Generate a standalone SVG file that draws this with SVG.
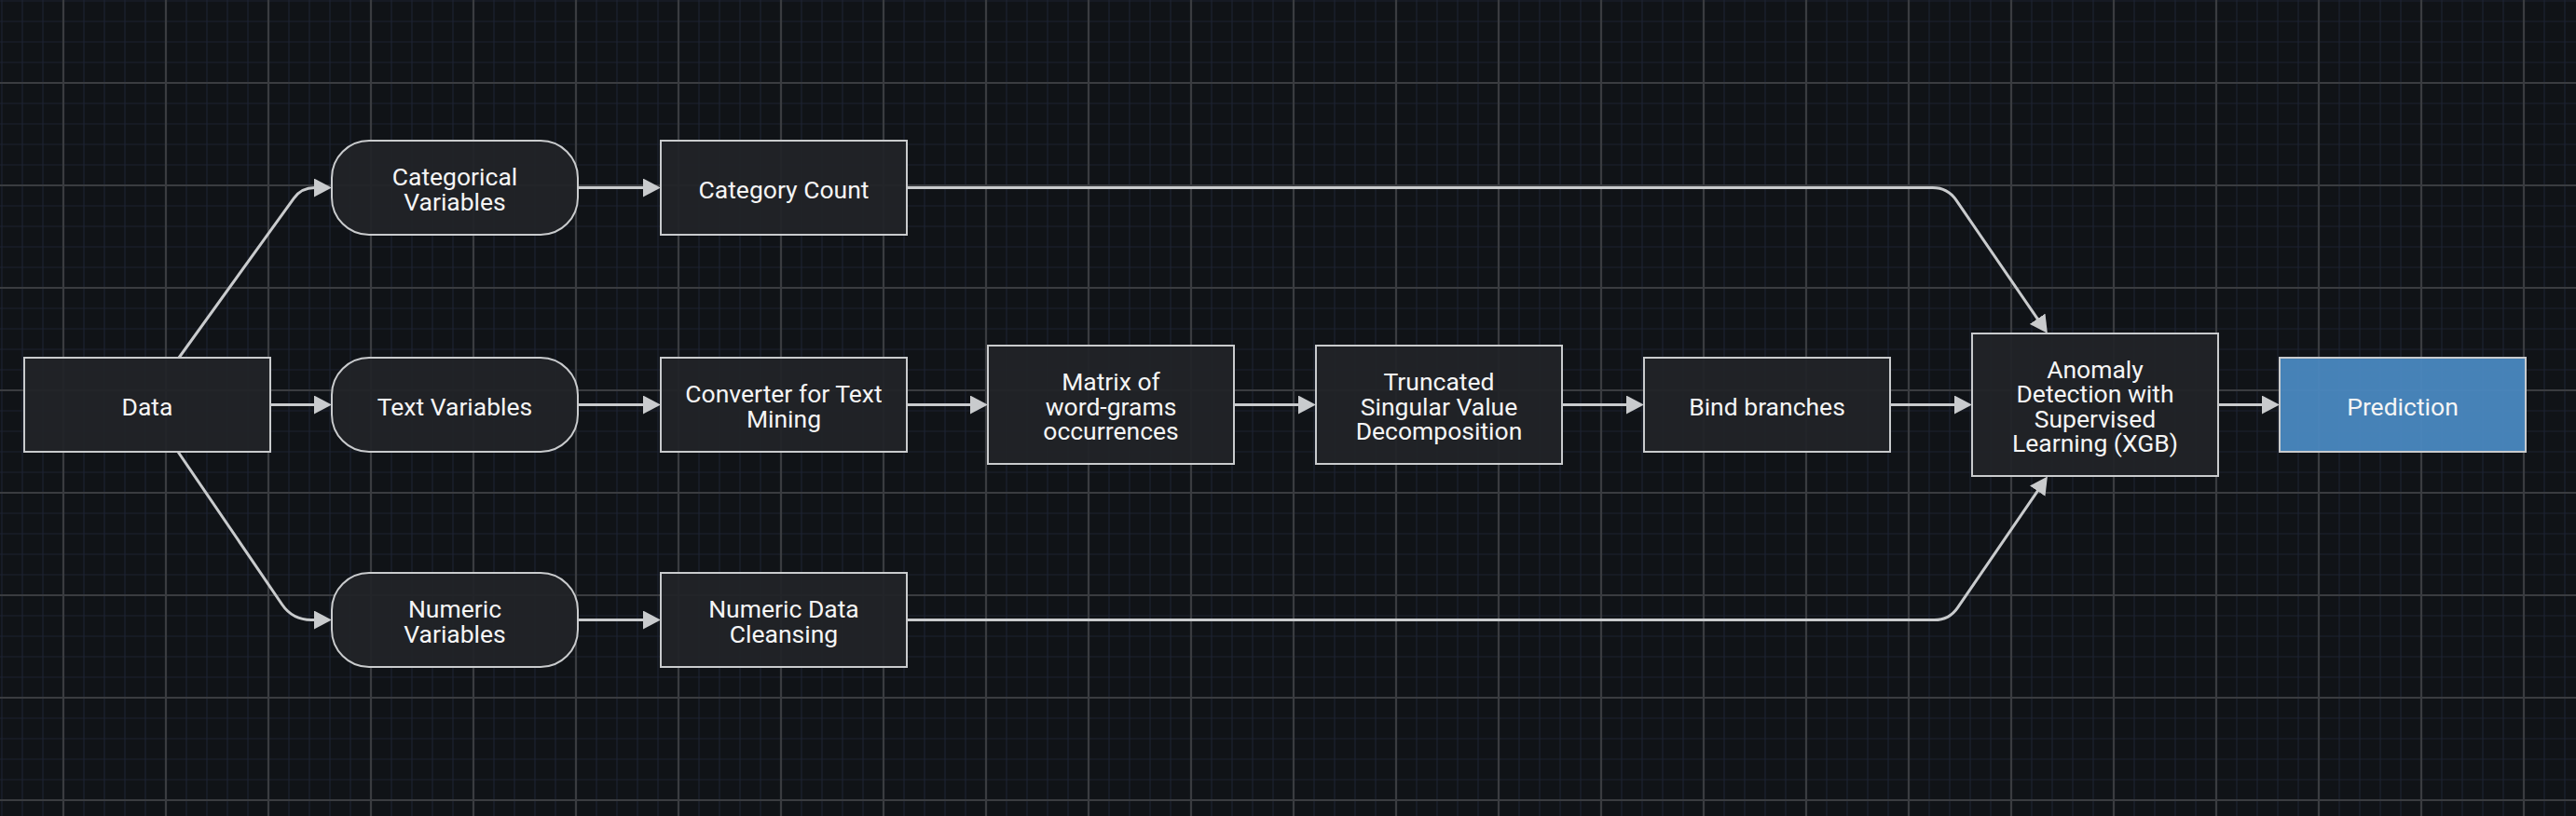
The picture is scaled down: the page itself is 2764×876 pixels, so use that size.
<svg xmlns="http://www.w3.org/2000/svg" width="2764" height="876" viewBox="0 0 2764 876">
  <defs>
    <pattern id="grid" patternUnits="userSpaceOnUse" x="13" y="34" width="110" height="110">
      <path d="M11,0 V110 M33,0 V110 M77,0 V110 M99,0 V110 M0,11 H110 M0,33 H110 M0,77 H110 M0,99 H110" stroke="#1c2130" stroke-width="1.2" fill="none"/>
      <path d="M55,0 V110 M0,55 H110" stroke="#3a3c40" stroke-width="2.2" fill="none"/>
    </pattern>
    <marker id="arr" markerUnits="userSpaceOnUse" markerWidth="19" markerHeight="20" viewBox="0 0 18 19" refX="1" refY="9.5" orient="auto">
      <path d="M0,0 L18,9.5 L0,19 z" fill="#c9cbcd"/>
    </marker>
    <style>
      .node { fill: #212428; fill-opacity: 0.93; stroke: #c9cbcd; stroke-width: 2; }
      .pred { fill: #4a88c0; fill-opacity: 0.95; stroke: #c9cbcd; stroke-width: 2; }
      .lbl { font-family: Roboto, "Liberation Sans", sans-serif; font-size: 26.5px; fill: #f5f5f5; text-anchor: middle; }
      .edge { fill: none; stroke: #c9cbcd; stroke-width: 3; marker-end: url(#arr); }
    </style>
  </defs>

  <rect x="0" y="0" width="2764" height="876" fill="#101317"/>
  <rect x="0" y="0" width="2764" height="876" fill="url(#grid)"/>

  <g id="connectors">
    <path class="edge" d="M192,384 L315.3,212.8 Q323.5,201.5 337.5,201.5 L338,201.5"/>
    <path class="edge" d="M290,434.5 H338"/>
    <path class="edge" d="M191,485 L302.7,649 Q314,665.5 334,665.5 L338,665.5"/>
    <path class="edge" d="M620,201.5 H691"/>
    <path class="edge" d="M620,434.5 H691"/>
    <path class="edge" d="M620,665.5 H691"/>
    <path class="edge" d="M973,434.5 H1042"/>
    <path class="edge" d="M1324,434.5 H1394"/>
    <path class="edge" d="M1676,434.5 H1746"/>
    <path class="edge" d="M2028,434.5 H2098"/>
    <path class="edge" d="M2380,434.5 H2428"/>
    <path class="edge" d="M973,201.5 H2073.8 Q2089.8,201.5 2098.8,214.7 L2186.8,343.1"/>
    <path class="edge" d="M973,665.5 H2075.5 Q2091.5,665.5 2100.5,652.3 L2186.8,526.3"/>
  </g>

  <g id="node-data">
    <rect class="node" x="26" y="384" width="264" height="101"/>
    <text class="lbl" x="158" y="445.5">Data</text>
  </g>
  <g id="node-categorical-variables">
    <rect class="node" x="356" y="151" width="264" height="101" rx="40" ry="40"/>
    <text class="lbl" x="488" y="199.25">Categorical</text>
    <text class="lbl" x="488" y="225.75">Variables</text>
  </g>
  <g id="node-text-variables">
    <rect class="node" x="356" y="384" width="264" height="101" rx="40" ry="40"/>
    <text class="lbl" x="488" y="445.5">Text Variables</text>
  </g>
  <g id="node-numeric-variables">
    <rect class="node" x="356" y="615" width="264" height="101" rx="40" ry="40"/>
    <text class="lbl" x="488" y="663.25">Numeric</text>
    <text class="lbl" x="488" y="689.75">Variables</text>
  </g>
  <g id="node-category-count">
    <rect class="node" x="709" y="151" width="264" height="101"/>
    <text class="lbl" x="841" y="212.5">Category Count</text>
  </g>
  <g id="node-converter">
    <rect class="node" x="709" y="384" width="264" height="101"/>
    <text class="lbl" x="841" y="432.25">Converter for Text</text>
    <text class="lbl" x="841" y="458.75">Mining</text>
  </g>
  <g id="node-numeric-cleansing">
    <rect class="node" x="709" y="615" width="264" height="101"/>
    <text class="lbl" x="841" y="663.25">Numeric Data</text>
    <text class="lbl" x="841" y="689.75">Cleansing</text>
  </g>
  <g id="node-matrix">
    <rect class="node" x="1060" y="371" width="264" height="127"/>
    <text class="lbl" x="1192" y="419">Matrix of</text>
    <text class="lbl" x="1192" y="445.5">word-grams</text>
    <text class="lbl" x="1192" y="472">occurrences</text>
  </g>
  <g id="node-svd">
    <rect class="node" x="1412" y="371" width="264" height="127"/>
    <text class="lbl" x="1544" y="419">Truncated</text>
    <text class="lbl" x="1544" y="445.5">Singular Value</text>
    <text class="lbl" x="1544" y="472">Decomposition</text>
  </g>
  <g id="node-bind">
    <rect class="node" x="1764" y="384" width="264" height="101"/>
    <text class="lbl" x="1896" y="445.5">Bind branches</text>
  </g>
  <g id="node-anomaly">
    <rect class="node" x="2116" y="358" width="264" height="153"/>
    <text class="lbl" x="2248" y="405.75">Anomaly</text>
    <text class="lbl" x="2248" y="432.25">Detection with</text>
    <text class="lbl" x="2248" y="458.75">Supervised</text>
    <text class="lbl" x="2248" y="485.25">Learning (XGB)</text>
  </g>
  <g id="node-prediction">
    <rect class="pred" x="2446" y="384" width="264" height="101"/>
    <text class="lbl" x="2578" y="445.5">Prediction</text>
  </g>
</svg>
